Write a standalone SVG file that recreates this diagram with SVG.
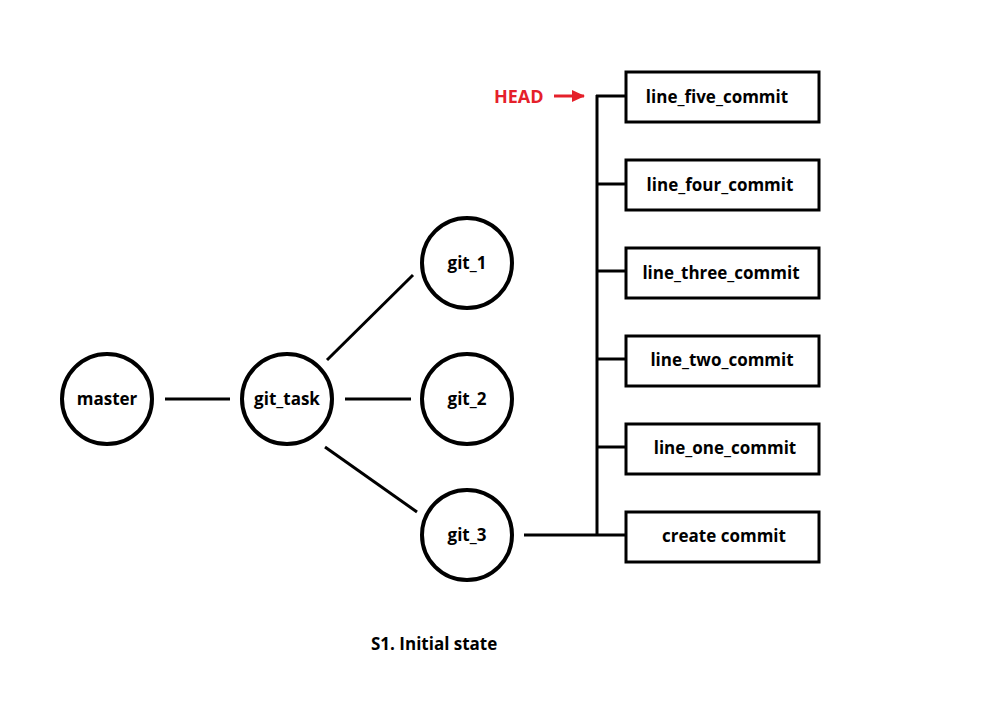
<svg xmlns="http://www.w3.org/2000/svg" width="987" height="709" viewBox="0 0 987 709">
<style>
text{font-family:"Open Sans","Noto Sans","DejaVu Sans",sans-serif;font-weight:bold;font-size:17px;fill:#000;text-anchor:middle}
.c{fill:#fff;stroke:#000;stroke-width:4}
.b{fill:#fff;stroke:#000;stroke-width:3}
.l{stroke:#000;stroke-width:3;fill:none}
</style>
<defs>
<marker id="ah" markerWidth="13" markerHeight="12" refX="12" refY="6" orient="auto" markerUnits="userSpaceOnUse">
<path d="M0,0 L13,6 L0,12 Z" fill="#e5202a"/>
</marker>
</defs>
<rect width="987" height="709" fill="#fff"/>
<g id="connectors">
<line class="l" x1="165" y1="399" x2="230" y2="399"/>
<line class="l" x1="345" y1="399" x2="411" y2="399"/>
<line class="l" x1="327" y1="360" x2="413" y2="275"/>
<line class="l" x1="325" y1="447" x2="417" y2="512"/>
<line class="l" x1="524" y1="535" x2="626" y2="535"/>
<line class="l" x1="597" y1="95" x2="597" y2="536"/>
<line class="l" x1="596" y1="96" x2="626" y2="96"/>
<line class="l" x1="597" y1="184" x2="626" y2="184"/>
<line class="l" x1="597" y1="271" x2="626" y2="271"/>
<line class="l" x1="597" y1="359" x2="626" y2="359"/>
<line class="l" x1="597" y1="447" x2="626" y2="447"/>
<line x1="554" y1="96" x2="584" y2="96" stroke="#e5202a" stroke-width="3" marker-end="url(#ah)"/>
</g>
<g id="master"><circle class="c" cx="107" cy="399" r="45"/><text x="107" y="405">master</text></g>
<g id="git_task"><circle class="c" cx="287" cy="399" r="45"/><text x="287" y="405">git_task</text></g>
<g id="git_1"><circle class="c" cx="467" cy="263" r="45"/><text x="467" y="269">git_1</text></g>
<g id="git_2"><circle class="c" cx="467" cy="399" r="45"/><text x="467" y="405">git_2</text></g>
<g id="git_3"><circle class="c" cx="467" cy="535" r="45"/><text x="467" y="541">git_3</text></g>
<g id="line_five_commit"><rect class="b" x="626" y="72" width="193" height="50"/><text x="717" y="103">line_five_commit</text></g>
<g id="line_four_commit"><rect class="b" x="626" y="160" width="193" height="50"/><text x="720" y="191">line_four_commit</text></g>
<g id="line_three_commit"><rect class="b" x="626" y="248" width="193" height="50"/><text x="721" y="279">line_three_commit</text></g>
<g id="line_two_commit"><rect class="b" x="626" y="336" width="193" height="50"/><text x="722" y="366">line_two_commit</text></g>
<g id="line_one_commit"><rect class="b" x="626" y="424" width="193" height="50"/><text x="725" y="454">line_one_commit</text></g>
<g id="create_commit"><rect class="b" x="626" y="512" width="193" height="50"/><text x="724" y="542">create commit</text></g>
<g id="head"><text x="494" y="103" style="text-anchor:start;fill:#e5202a;font-size:18px">HEAD</text></g>
<g id="caption"><text x="371" y="650" style="text-anchor:start">S1. Initial state</text></g>
</svg>
